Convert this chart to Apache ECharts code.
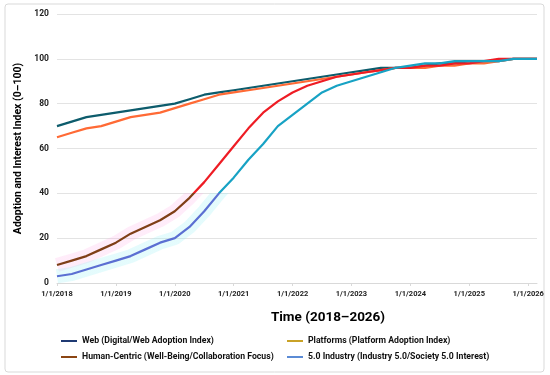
<!DOCTYPE html>
<html><head><meta charset="utf-8">
<script src="https://cdn.jsdelivr.net/npm/echarts@6/dist/echarts.min.js"></script>
<style>html,body{margin:0;padding:0;background:#fff}#c{width:550px;height:375px}</style>
</head><body><div id="c"></div>
<script>
// decimal years (quarterly) + final point
const dates = [2018,2018.25,2018.5,2018.75,2019,2019.25,2019.5,2019.75,2020,2020.25,2020.5,2020.75,2021,2021.25,2021.5,2021.75,2022,2022.25,2022.5,2022.75,2023,2023.25,2023.5,2023.75,2024,2024.25,2024.5,2024.75,2025,2025.25,2025.5,2025.75,2026,2026.15];
const webVals = [70,72,74,75,76,77,78,79,80,82,84,85,86,87,88,89,90,91,92,93,94,95,96,96,96,97,98,98,99,99,99,100,100,100];
const platVals = [65,67,69,70,72,74,75,76,78,80,82,84,85,86,87,88,89,90,91,92,93,94,95,96,96,96,97,97,98,98,99,100,100,100];
const humanVals = [8,10,12,15,18,22,25,28,32,38,45,53,61,69,76,81,85,88,90,92,93,94,95,96,96,97,97,98,98,99,100,100,100,100];
const indVals = [3,4,6,8,10,12,15,18,20,25,32,40,47,55,62,70,75,80,85,88,90,92,94,96,97,98,98,99,99,99,99,100,100,100];
const yearTicks = [2018,2019,2020,2021,2022,2023,2024,2025,2026];
const names = ['Web (Digital/Web Adoption Index)','Platforms (Platform Adoption Index)','Human-Centric (Well-Being/Collaboration Focus)','5.0 Industry (Industry 5.0/Society 5.0 Interest)'];

const pair = v => dates.map((d,i)=>[d,v[i]]);
const F = "Roboto,'Liberation Sans',sans-serif";
const chart = echarts.init(document.getElementById('c'));
const split = (lo, hi) => [{min:-10,max:40,color:lo},{min:40,max:130,color:hi}];
const legText = {fontFamily:F,fontWeight:'bold',fontSize:8.7,color:'#111',lineHeight:12};
chart.setOption({
  animation:false,
  graphic:[
    {type:'rect',shape:{x:5,y:4,width:539,height:368,r:3},style:{fill:'none',stroke:'#d9d9d9',lineWidth:1},z:-1},
    {type:'text',x:328,y:318,style:{text:'Time (2018–2026)',font:'bold 13.5px '+F,fill:'#000',textAlign:'center',textVerticalAlign:'middle'}}
  ],
  grid:{left:57,right:13,top:14,bottom:92},
  xAxis:{type:'value',min:2018,max:2026.15,interval:1,
    axisLine:{lineStyle:{color:'#d9d9d9'}},
    axisTick:{show:true,customValues:yearTicks,length:3,lineStyle:{color:'#d9d9d9'}},
    axisLabel:{customValues:yearTicks,formatter:v=>'1/1/'+v,fontFamily:F,fontWeight:'bold',fontSize:7.5,color:'#222',margin:7},
    splitLine:{show:false}},
  yAxis:{type:'value',min:0,max:120,interval:20,
    name:'Adoption and Interest Index (0–100)',nameLocation:'middle',nameGap:30,
    nameTextStyle:{fontFamily:F,fontWeight:'bold',fontSize:10.5,color:'#000'},
    axisLine:{show:false},axisTick:{show:false},
    axisLabel:{fontFamily:F,fontWeight:'bold',fontSize:8.5,color:'#222',margin:8},
    splitLine:{lineStyle:{color:'#e3e3e3'}}},
  visualMap:[
    {show:false,type:'piecewise',seriesIndex:2,dimension:1,pieces:split('#7f3f17','#ee1c24')},
    {show:false,type:'piecewise',seriesIndex:3,dimension:1,pieces:split('#5b6fd2','#17a2c4')},
    {show:false,type:'piecewise',seriesIndex:4,dimension:1,pieces:split('rgba(255,170,230,0.22)','rgba(255,255,255,0)')},
    {show:false,type:'piecewise',seriesIndex:5,dimension:1,pieces:split('rgba(150,240,245,0.25)','rgba(255,255,255,0)')}
  ],
  legend:[
    {left:56,top:330,orient:'vertical',itemGap:4,itemWidth:16,itemHeight:2,itemTextGap:3,icon:'rect',textStyle:legText,
     data:[{name:names[0],itemStyle:{color:'#1f3a73'}},{name:names[2],itemStyle:{color:'#8b4513'}}]},
    {left:282,top:330,orient:'vertical',itemGap:4,itemWidth:16,itemHeight:2,itemTextGap:3,icon:'rect',textStyle:legText,
     data:[{name:names[1],itemStyle:{color:'#c9a227'}},{name:names[3],itemStyle:{color:'#5b8bd5'}}]}
  ],
  series:[
    {name:names[0],type:'line',data:pair(webVals),symbol:'none',lineStyle:{width:2.2,color:'#0d5c6c'},itemStyle:{color:'#0d5c6c'},z:2},
    {name:names[1],type:'line',data:pair(platVals),symbol:'none',lineStyle:{width:2.2,color:'#ff6a35'},itemStyle:{color:'#ff6a35'},z:2},
    {name:names[2],type:'line',data:pair(humanVals),symbol:'none',lineStyle:{width:2.2},z:3},
    {name:names[3],type:'line',data:pair(indVals),symbol:'none',lineStyle:{width:2.2},z:4},
    {type:'line',data:pair(humanVals),symbol:'none',silent:true,lineStyle:{width:14},z:1},
    {type:'line',data:pair(indVals),symbol:'none',silent:true,lineStyle:{width:14},z:1}
  ]
});
</script></body></html>
